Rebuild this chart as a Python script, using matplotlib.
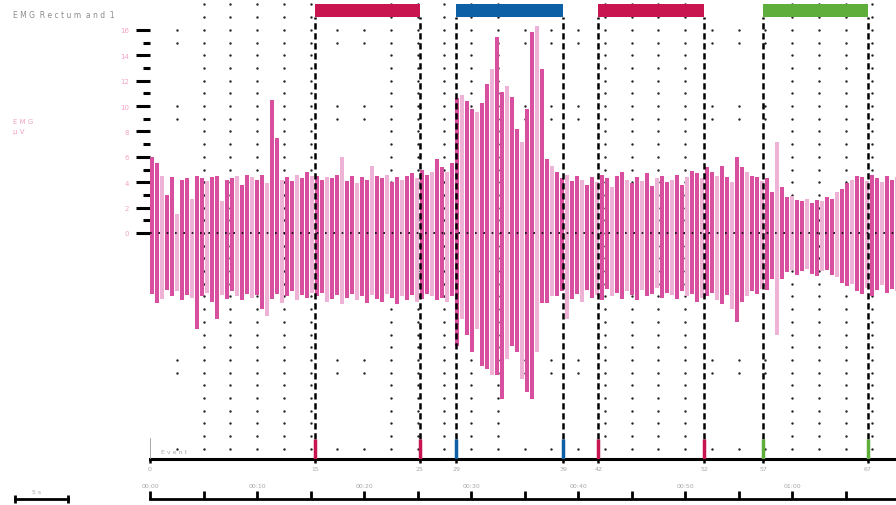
import numpy as np
import matplotlib
matplotlib.use('Agg')
import matplotlib.pyplot as plt

# EMG-Kurve (Amplitude in uV), ein Balken pro Abtastschritt
emg_step = 0.467      # s
emg_pos = [6.0, 5.5, 4.5, 3.0, 4.4, 1.5, 4.2, 4.3, 2.7, 4.5, 4.3, 4.1, 4.4, 4.5, 2.5, 4.2, 4.3,
           4.5, 3.8, 4.6, 4.4, 4.2, 4.6, 3.9, 10.5, 7.5, 4.2, 4.4, 4.1, 4.6, 4.3, 4.8, 4.5,
           4.5, 4.2, 4.4, 4.3, 4.6, 6.0, 4.1, 4.5, 3.9, 4.4, 4.2, 5.3, 4.5, 4.3, 4.6, 4.0,
           4.4, 4.2, 4.5, 4.7, 4.3, 5.0, 4.6, 4.8, 5.8, 5.2, 4.8, 5.5,
           10.6, 10.9, 10.4, 9.8, 9.5, 10.2, 11.7, 12.9, 15.4, 11.1, 11.6, 10.7, 8.2, 7.2,
           9.8, 15.8, 16.3, 12.9, 5.8, 5.3,
           4.8, 4.3, 4.6, 4.1, 4.5, 4.2, 3.8, 4.4, 4.0, 4.6, 4.3, 3.6, 4.5, 4.8, 4.2, 3.9,
           4.4, 4.1, 4.7, 3.7, 4.3, 4.5, 4.0, 4.2, 4.6, 3.8, 4.4, 4.9, 4.7, 4.3,
           5.2, 4.8, 4.5, 5.3, 4.4, 4.0, 6.0, 5.2, 4.8, 4.5, 4.4, 4.1, 4.3, 3.2, 7.2,
           3.6, 2.8, 2.9, 2.6, 2.5, 2.7, 2.4, 2.6, 2.5, 2.8, 2.7,
           3.2, 3.5, 3.9, 4.2, 4.5, 4.4, 4.1, 4.6, 4.3, 4.0, 4.5, 4.2, 4.4]
emg_neg = [-4.8, -5.5, -5.2, -4.5, -5.0, -4.6, -5.3, -4.9, -5.1, -7.6, -5.0, -4.7, -5.4, -6.8,
           -4.9, -5.2, -4.6, -5.0, -5.3, -4.8, -5.1, -4.9, -6.0, -6.5, -5.2, -4.8, -5.5, -5.0,
           -4.6, -5.3, -4.9, -5.1, -4.7,
           -5.0, -4.7, -5.4, -5.2, -4.9, -5.6, -5.1, -4.8, -5.3, -5.0, -5.5, -4.9, -5.2, -5.4,
           -4.8, -5.1, -5.6, -5.0, -5.3, -4.9, -5.4, -5.2, -4.8, -5.0, -5.3, -5.1, -5.4, -5.0,
           -8.9, -6.8, -8.0, -9.4, -7.6, -10.5, -10.7, -11.2, -11.2, -13.1, -9.9, -8.9, -9.4,
           -11.5, -12.5, -13.1, -9.4, -5.5, -5.5, -5.0,
           -5.0, -4.6, -6.8, -5.2, -4.8, -5.4, -4.5, -5.1, -4.9, -5.3, -4.4, -5.0, -4.7, -5.2,
           -4.6, -4.9, -5.3, -4.5, -5.0, -4.8, -4.3, -5.1, -4.7, -4.9, -5.2, -4.6, -5.0, -4.8,
           -5.4, -5.1,
           -5.0, -4.7, -5.3, -5.6, -4.9, -6.0, -7.0, -5.4, -5.0, -4.6, -4.8, -4.4, -4.5, -3.6,
           -8.0,
           -3.6, -3.1, -2.9, -3.3, -3.0, -2.8, -3.2, -3.4, -3.0, -2.9, -3.3,
           -3.5, -3.9, -4.2, -4.0, -4.6, -4.8, -4.3, -5.0, -4.5, -4.1, -4.7, -4.4, -4.6]

# Ereignisse (Start/Ende in s)
event_start = [15.4, 28.6, 41.9, 57.3]
event_end = [25.2, 38.6, 51.8, 67.1]
event_colors = ['#c8154f', '#0d5fa6', '#c8154f', '#5fad3a']
event_labels = ['15', '25', '29', '39', '42', '52', '57', '67']

# Punktraster
grid_full_cols = [2, 3, 4, 5, 6, 9, 10, 11, 12, 13, 17, 18, 19, 20, 24, 25, 26, 27]
grid_part_cols = [1, 7, 8, 14, 15, 16, 21, 22, 23]
grid_part_rows = [16, 15, 10, 9, -10, -11, -17]
grid_step = 2.5

ytick_major = [0, 2, 4, 6, 8, 10, 12, 14, 16]
ytick_minor = [1, 3, 5, 7, 9, 11, 13, 15]
time_labels = ['00:00', '00:10', '00:20', '00:30', '00:40', '00:50', '01:00']

pink_dark = '#d84fa0'
pink_light = '#eeb2d6'
pink_text = '#f2a3c6'
grey_text = '#a8a8a8'

fig = plt.figure(figsize=(8.96, 5.06), dpi=100)
ax = fig.add_axes([150 / 896, 1 - 460 / 506, 746 / 896, 460 / 506])
ax.set_xlim(0, 746 / 10.7)
ax.set_ylim(-17.8, 18.43)

# Punktraster
gx, gy = [], []
for k in grid_full_cols:
    for r in range(-17, 19):
        gx.append(k * grid_step)
        gy.append(r)
for k in grid_part_cols:
    for r in grid_part_rows:
        gx.append(k * grid_step)
        gy.append(r)
ax.scatter(gx, gy, s=3, c='#222222', linewidths=0, zorder=1)

# EMG-Balken
pos = np.array(emg_pos)
neg = np.array(emg_neg)
t = np.arange(len(pos)) * emg_step
cols = [pink_dark if i % 3 != 2 else pink_light for i in range(len(pos))]
ax.bar(t, pos - neg, bottom=neg, width=emg_step * 0.8, align='edge', color=cols, linewidth=0, zorder=2)

ax.axhline(0, color='black', lw=1.2, ls=(0, (1, 4)), zorder=3)

# Ereignislinien
ev_times = []
ev_cols = []
for s, e, c in zip(event_start, event_end, event_colors):
    ev_times += [s, e]
    ev_cols += [c, c]
    ax.bar(s, 1.03, bottom=17.0, width=e - s, align='edge', color=c, linewidth=0, clip_on=False, zorder=4)
ax.vlines(ev_times, -17.8, 17.0, colors='black', linestyles=(0, (2.5, 1.5)), lw=1.8, zorder=4)
ax.vlines(ev_times, -17.8, -16.2, colors=ev_cols, lw=2.5, zorder=5)
ax.plot([0, 0], [-16.2, -17.8], color='#999999', lw=1.2, zorder=5)

for sp in ['top', 'right', 'left']:
    ax.spines[sp].set_visible(False)
ax.spines['bottom'].set_linewidth(2.2)

ax.set_yticks(ytick_major)
ax.set_yticks(ytick_minor, minor=True)
ax.set_yticklabels([str(v) for v in ytick_major], fontsize=5, color=pink_text)
ax.tick_params(axis='y', which='major', direction='out', length=10, width=2.2, pad=5)
ax.tick_params(axis='y', which='minor', direction='out', length=5, width=2.2)

ax.set_xticks([0] + ev_times)
ax.set_xticklabels(['0'] + event_labels, fontsize=4.5, color=grey_text)
ax.tick_params(axis='x', direction='out', length=3, width=1.8, pad=2)

fig.text(13 / 896, 1 - 18 / 506, 'E M G  R e c t u m  a n d  1', fontsize=5.5, color='#8c8c8c')
fig.text(13 / 896, 1 - 124 / 506, 'E M G', fontsize=5, color=pink_text)
fig.text(13 / 896, 1 - 134 / 506, 'µ V', fontsize=5, color=pink_text)
ax.text(1.0, -17.3, 'E v e n t', fontsize=4.5, color=grey_text, zorder=6)

# Zeitachse unten
ax2 = fig.add_axes([150 / 896, 1 - 500 / 506, 746 / 896, 0.0001])
ax2.set_xlim(0, 746 / 10.7)
ax2.set_ylim(0, 1)
for sp in ['top', 'right', 'left']:
    ax2.spines[sp].set_visible(False)
ax2.spines['bottom'].set_linewidth(2.0)
ax2.set_yticks([])
ax2.set_xticks(np.arange(0, 70, 10))
ax2.set_xticks(np.arange(5, 70, 10), minor=True)
ax2.set_xticklabels(time_labels, fontsize=4.5, color=grey_text)
ax2.tick_params(axis='x', which='both', direction='in', length=6, width=2.0,
                bottom=True, top=False, labelbottom=False, labeltop=True, pad=8)

# Massstab 5 s
sx0 = (15 - 150) / 10.7
ax2.plot([sx0, sx0 + 5], [0.0, 0.0], color='black', lw=2, clip_on=False)
ax2.plot([sx0, sx0 + 5], [0.0, 0.0], ls='none', marker='|', ms=6, mew=2, color='black', clip_on=False)
fig.text(37 / 896, 1 - 494 / 506, '5 s', fontsize=4.5, color=grey_text, ha='center')

fig.savefig('out.png', dpi=100)
